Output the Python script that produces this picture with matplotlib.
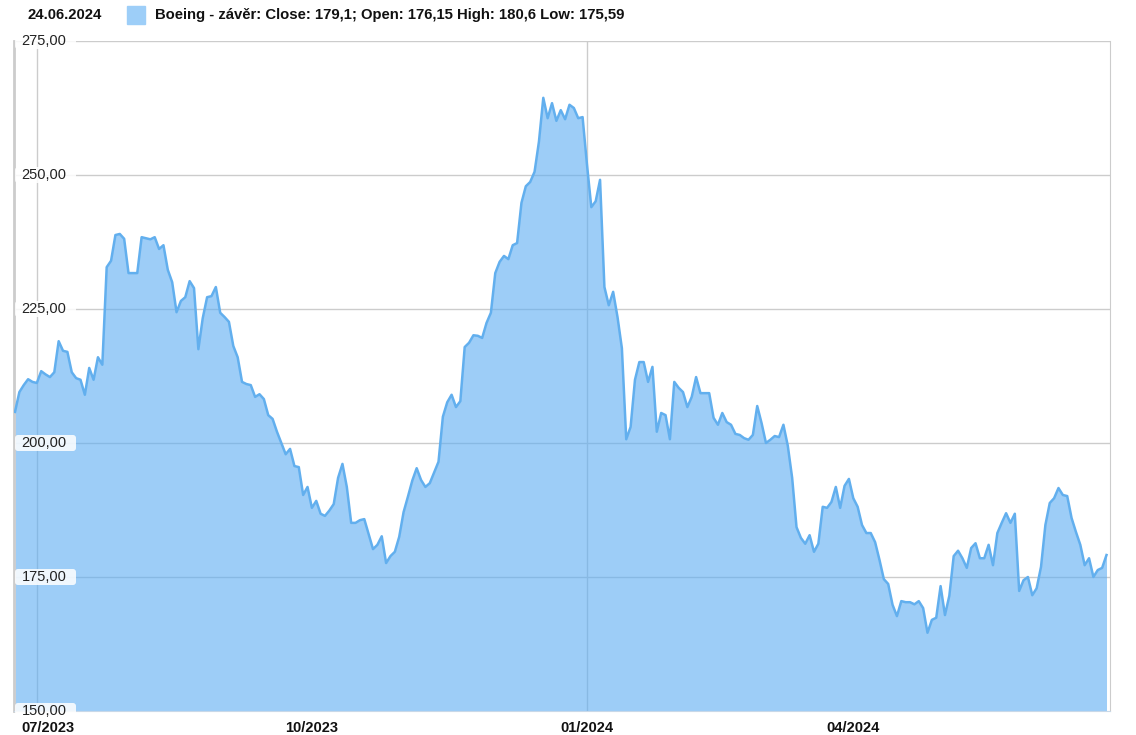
import matplotlib
matplotlib.use("Agg")
import matplotlib.pyplot as plt
import pandas as pd
from matplotlib.patches import Rectangle, FancyBboxPatch
from matplotlib.transforms import ScaledTranslation

plt.rcParams['font.family'] = ['Liberation Sans', 'DejaVu Sans']

# NYSE holidays inside the window
holidays = ["2023-07-04", "2023-09-04", "2023-11-23", "2023-12-25", "2024-01-01",
            "2024-01-15", "2024-02-19", "2024-03-29", "2024-05-27", "2024-06-19"]
dates = pd.bdate_range("2023-06-26", "2024-06-24", freq="C", holidays=holidays)

# daily close
close_2023 = [
    205.8, 209.5, 210.8, 211.9, 211.4, 211.2, 213.4, 212.8, 212.3, 213.2,
    219.0, 217.2, 217.0, 213.2, 212.1, 211.8, 209.0, 214.0, 211.8, 216.0,
    214.6, 232.8, 234.0, 238.8, 239.0, 238.1, 231.7, 231.7, 231.7, 238.4,
    238.2, 238.0, 238.4, 236.2, 236.9, 232.3, 230.0, 224.4, 226.5, 227.2,
    230.2, 228.9, 217.5, 223.3, 227.2, 227.4, 229.1, 224.3, 223.5, 222.6,
    218.1, 216.0, 211.4, 211.0, 210.8, 208.6, 209.1, 208.2, 205.2, 204.5,
    202.1, 200.0, 197.9, 198.9, 195.7, 195.5, 190.3, 191.8, 187.9, 189.2,
    186.8, 186.4, 187.4, 188.6, 193.5, 196.1, 191.8, 185.1, 185.1, 185.6,
    185.8, 183.0, 180.2, 181.0, 182.6, 177.6, 178.9, 179.7, 182.5, 187.1,
    190.0, 193.0, 195.3, 193.1, 191.8, 192.5, 194.5, 196.5, 204.9, 207.6,
    209.0, 206.7, 207.8, 217.9, 218.7, 220.1, 220.0, 219.6, 222.4, 224.3,
    231.7, 233.8, 234.9, 234.3, 236.9, 237.3, 244.8, 247.9, 248.7, 250.6,
    256.2, 264.4, 260.6, 263.4, 260.1, 262.1, 260.4, 263.1, 262.5, 260.6, 260.8,
]
close_2024 = [
    252.0, 244.0, 245.1, 249.1, 229.1, 225.7, 228.2, 223.5, 217.7, 200.7,
    203.0, 211.8, 215.1, 215.1, 211.4, 214.2, 202.1, 205.6, 205.2, 200.7,
    211.4, 210.3, 209.5, 206.7, 208.6, 212.3, 209.3, 209.3, 209.3, 204.7,
    203.4, 205.6, 203.9, 203.4, 201.7, 201.5, 200.9, 200.6, 201.5, 206.9,
    203.7, 200.0, 200.6, 201.3, 201.1, 203.4, 199.5, 193.5, 184.3, 182.3,
    181.2, 182.8, 179.7, 181.2, 188.1, 187.9, 189.0, 191.8, 187.9, 192.0,
    193.3, 189.7, 188.1, 184.7, 183.2, 183.2, 181.5, 178.2, 174.6, 173.7,
    169.8, 167.7, 170.5, 170.3, 170.3, 169.9, 170.5, 169.2, 164.6, 167.0,
    167.4, 173.3, 167.9, 171.5, 178.9, 179.9, 178.5, 176.7, 180.4, 181.3,
    178.5, 178.5, 181.0, 177.2, 183.2, 185.1, 186.9, 185.1, 186.8, 172.4,
    174.4, 175.0, 171.6, 172.9, 176.9, 184.7, 188.8, 189.7, 191.6, 190.3,
    190.1, 186.0, 183.4, 181.0, 177.2, 178.5, 175.0, 176.3, 176.7, 179.1,
]
close = close_2023 + close_2024

y_ticks = [150, 175, 200, 225, 250, 275]
x_label_months = ["2023-07", "2023-10", "2024-01", "2024-04"]
x_grid_months = ["2023-07", "2024-01"]

header_date = "24.06.2024"
legend_text = "Boeing - závěr: Close: 179,1; Open: 176,15 High: 180,6 Low: 175,59"

W, H = 1136, 735
fig = plt.figure(figsize=(W / 100, H / 100), dpi=100)
ax = fig.add_axes([14 / W, 1 - 711 / H, (1110 - 14) / W, (711 - 41) / H])

x = list(range(len(dates)))
months = list(dates.strftime("%Y-%m"))


def first_idx(m):
    return months.index(m)


ax.fill_between(x, close, y_ticks[0], color="#5CADF3", alpha=0.6, lw=0, zorder=2)
ax.plot(x, close, color="#62AFEE", lw=1.8, zorder=3, solid_joinstyle="round")

for v in y_ticks[1:]:
    ax.axhline(v, color="#cccccc", lw=1, zorder=1)
for m in x_grid_months:
    ax.axvline(first_idx(m), color="#cccccc", lw=1, zorder=1)

ax.set_xlim(-0.23, len(x) - 0.2)
ax.set_ylim(y_ticks[0], y_ticks[-1])

ax.set_xticks([first_idx(m) for m in x_label_months])
ax.set_xticklabels([m[5:] + "/" + m[:4] for m in x_label_months],
                   fontsize=10.5, fontweight="bold", color="#111111")
ax.tick_params(axis="x", length=0, pad=7)
ax.set_yticks([])
# first label is pushed right so it stays inside the chart
first = ax.get_xticklabels()[0]
first.set_transform(first.get_transform() + ScaledTranslation(11 / 100, 0, fig.dpi_scale_trans))

ax.spines["top"].set_visible(False)
ax.spines["left"].set_color("#cccccc")
ax.spines["left"].set_linewidth(2)
ax.spines["right"].set_color("#cccccc")
ax.spines["bottom"].set_color("#c8d8e8")

ytr = ax.get_yaxis_transform()
px_x = 1 / 1096.0                       # axes fraction per pixel
px_y = (y_ticks[-1] - y_ticks[0]) / 670.0  # data units per pixel
for v in y_ticks:
    box = FancyBboxPatch((1 * px_x, v - 8 * px_y), 61 * px_x, 16 * px_y,
                         boxstyle="round,pad=0,rounding_size=%f" % (3 * px_x),
                         mutation_aspect=px_y / px_x,
                         transform=ytr, fc="white", ec="none", alpha=0.85,
                         zorder=4, clip_on=False)
    ax.add_patch(box)
    ax.text(7.5 * px_x, v, f"{v},00", transform=ytr, ha="left", va="center",
            fontsize=10.5, color="#222222", zorder=5, clip_on=False)

# header with date and legend
fig.text(28 / W, 1 - 15 / H, header_date, fontsize=10.7, fontweight="bold",
         va="center", ha="left", color="#111111")
fig.patches.append(Rectangle((127 / W, 1 - 24 / H), 18 / W, 18 / H,
                             transform=fig.transFigure, color="#9DCEF8"))
fig.text(155 / W, 1 - 15 / H, legend_text, fontsize=10.7, fontweight="bold",
         va="center", ha="left", color="#111111")

fig.savefig("out.png", dpi=100)
